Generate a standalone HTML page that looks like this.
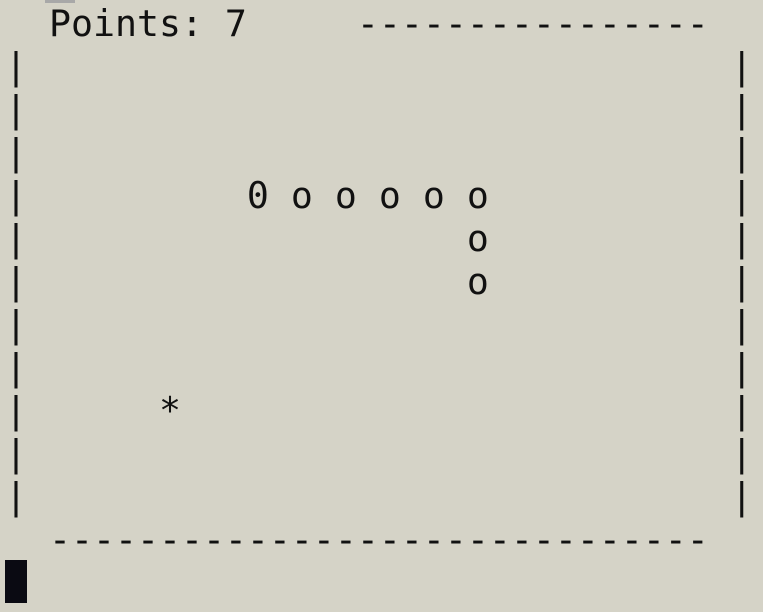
<!DOCTYPE html>
<html><head><meta charset="utf-8"><style>
html,body{margin:0;padding:0;width:763px;height:612px;overflow:hidden;background:#d5d3c7;}
pre{position:absolute;left:5px;top:2px;margin:0;font-family:"DejaVu Sans Mono","Liberation Mono",monospace;font-size:36.54px;line-height:43px;color:#111;}
.cur{position:absolute;left:5px;top:560px;width:22px;height:43px;background:#0a0a12;}
.tab{position:absolute;left:45px;top:0;width:30px;height:3px;background:#a8a8a8;}
</style></head><body>
<div class="tab"></div>
<pre>  Points: 7     ----------------
|                                |
|                                |
|                                |
|          0 o o o o o           |
|                    o           |
|                    o           |
|                                |
|                                |
|      *                         |
|                                |
|                                |
  ------------------------------</pre>
<div class="cur"></div>
</body></html>
